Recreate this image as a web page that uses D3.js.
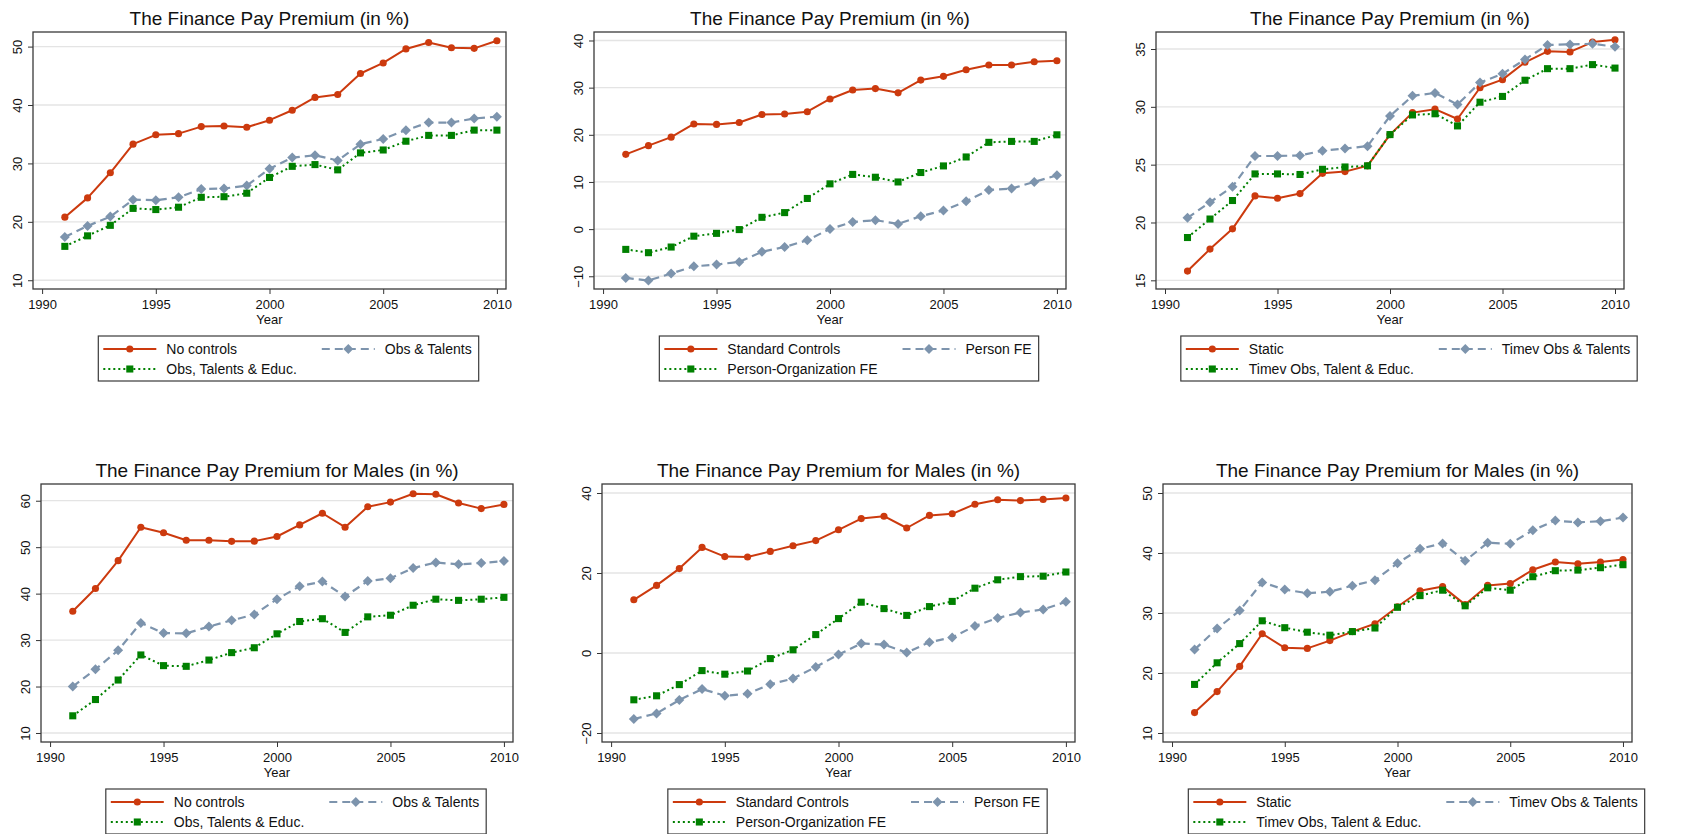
<!DOCTYPE html>
<html>
<head>
<meta charset="utf-8">
<script src="https://cdn.jsdelivr.net/npm/d3@7"></script>
<style>
  body { margin: 0; background: #fff; }
  svg { display: block; font-family: "Liberation Sans", Arial, sans-serif; }
</style>
</head>
<body>
<div class="chart"></div>
<script>
// years on the x axis
var years = [1991, 1992, 1993, 1994, 1995, 1996, 1997, 1998, 1999, 2000,
  2001, 2002, 2003, 2004, 2005, 2006, 2007, 2008, 2009, 2010];
var xTicks = [1990, 1995, 2000, 2005, 2010];

var titleAll = "The Finance Pay Premium (in %)";
var titleMales = "The Finance Pay Premium for Males (in %)";

var labelsA = ["No controls", "Obs & Talents", "Obs, Talents & Educ."];
var labelsB = ["Standard Controls", "Person FE", "Person-Organization FE"];
var labelsC = ["Static", "Timev Obs & Talents", "Timev Obs, Talent & Educ."];

// top left
var p1NoControls = [20.8, 24.1, 28.4, 33.3, 34.9, 35.1, 36.3, 36.4, 36.2, 37.4, 39.1, 41.3, 41.8, 45.4, 47.2, 49.6, 50.7, 49.8, 49.7, 51.0];
var p1ObsTalents = [17.4, 19.3, 20.9, 23.8, 23.7, 24.2, 25.6, 25.7, 26.2, 29.1, 31.0, 31.4, 30.5, 33.3, 34.2, 35.7, 37.0, 37.0, 37.7, 38.0];
var p1ObsTalentsEduc = [15.8, 17.6, 19.4, 22.3, 22.1, 22.5, 24.2, 24.3, 24.9, 27.6, 29.5, 29.8, 28.9, 31.8, 32.3, 33.8, 34.8, 34.8, 35.7, 35.7];
var p1Ticks = [10, 20, 30, 40, 50];

// top middle
var p2Standard = [15.85, 17.7, 19.5, 22.3, 22.2, 22.6, 24.3, 24.4, 24.9, 27.6, 29.5, 29.8, 28.9, 31.6, 32.4, 33.8, 34.8, 34.8, 35.5, 35.7];
var p2PersonFE = [-10.35, -10.9, -9.4, -7.9, -7.5, -6.95, -4.8, -3.8, -2.35, 0.05, 1.5, 1.9, 1.1, 2.75, 3.95, 5.9, 8.3, 8.6, 10.0, 11.4];
var p2PersonOrgFE = [-4.3, -5.0, -3.8, -1.5, -0.9, -0.1, 2.5, 3.5, 6.5, 9.6, 11.6, 11.0, 10.0, 12.0, 13.4, 15.3, 18.4, 18.6, 18.6, 20.0];
var p2Ticks = [-10, 0, 10, 20, 30, 40];

// top right
var p3Static = [15.8, 17.7, 19.45, 22.3, 22.1, 22.5, 24.25, 24.4, 24.9, 27.6, 29.5, 29.8, 28.95, 31.65, 32.35, 33.85, 34.8, 34.75, 35.6, 35.8];
var p3TimevObs = [20.4, 21.75, 23.1, 25.75, 25.75, 25.8, 26.2, 26.4, 26.6, 29.2, 30.95, 31.2, 30.2, 32.1, 32.85, 34.1, 35.35, 35.4, 35.45, 35.2];
var p3TimevEduc = [18.7, 20.3, 21.9, 24.2, 24.2, 24.15, 24.6, 24.8, 24.9, 27.6, 29.3, 29.4, 28.35, 30.4, 30.9, 32.3, 33.3, 33.3, 33.65, 33.35];
var p3Ticks = [15, 20, 25, 30, 35];

// bottom left (males)
var p4NoControls = [36.2, 41.1, 47.1, 54.3, 53.1, 51.5, 51.5, 51.25, 51.3, 52.3, 54.8, 57.3, 54.3, 58.7, 59.7, 61.5, 61.4, 59.5, 58.3, 59.2];
var p4ObsTalents = [20.0, 23.7, 27.8, 33.7, 31.5, 31.45, 32.9, 34.25, 35.5, 38.8, 41.6, 42.6, 39.4, 42.7, 43.3, 45.5, 46.7, 46.3, 46.6, 47.0];
var p4ObsTalentsEduc = [13.7, 17.2, 21.4, 26.8, 24.5, 24.35, 25.7, 27.3, 28.35, 31.35, 34.0, 34.6, 31.65, 35.0, 35.35, 37.5, 38.8, 38.55, 38.8, 39.2];
var p4Ticks = [10, 20, 30, 40, 50, 60];

// bottom middle (males)
var p5Standard = [13.3, 16.9, 21.1, 26.4, 24.1, 24.0, 25.4, 26.8, 28.1, 30.8, 33.6, 34.2, 31.25, 34.4, 34.8, 37.2, 38.3, 38.1, 38.4, 38.75];
var p5PersonFE = [-16.5, -15.1, -11.75, -9.0, -10.7, -10.2, -7.8, -6.4, -3.5, -0.4, 2.4, 2.1, 0.1, 2.7, 3.9, 6.75, 8.75, 10.1, 10.9, 12.8];
var p5PersonOrgFE = [-11.7, -10.7, -7.9, -4.4, -5.3, -4.5, -1.4, 0.8, 4.6, 8.6, 12.7, 11.1, 9.4, 11.6, 12.9, 16.2, 18.3, 19.1, 19.2, 20.25];
var p5Ticks = [-20, 0, 20, 40];

// bottom right (males)
var p6Static = [13.4, 16.9, 21.1, 26.55, 24.2, 24.1, 25.4, 26.9, 28.2, 31.05, 33.7, 34.4, 31.4, 34.6, 34.9, 37.2, 38.5, 38.2, 38.5, 38.9];
var p6TimevObs = [23.9, 27.4, 30.4, 35.1, 33.9, 33.3, 33.55, 34.55, 35.45, 38.3, 40.7, 41.6, 38.7, 41.7, 41.55, 43.8, 45.4, 45.1, 45.3, 45.9];
var p6TimevEduc = [18.1, 21.7, 24.9, 28.7, 27.55, 26.8, 26.3, 26.9, 27.5, 30.95, 32.9, 33.8, 31.2, 34.2, 33.8, 36.05, 37.05, 37.15, 37.55, 38.05];
var p6Ticks = [10, 20, 30, 40, 50];

var width = 1683, height = 834;
var xDomain = [1989.6, 2010.4];

var red = "#cc3a0e", blue = "#7d94ad", green = "#008000";

// red solid + circle, blue dashed + diamond, green dotted + square
var styles = [
  { color: red, dash: null, width: 2, symbol: d3.symbolCircle, size: 40, rotate: 0 },
  { color: blue, dash: "8,5", width: 2.2, symbol: d3.symbolSquare, size: 50, rotate: 45 },
  { color: green, dash: "2,3", width: 2, symbol: d3.symbolSquare, size: 50, rotate: 0 }
];

var panels = [
  { title: titleAll, box: [33, 32, 506, 289], yDomain: [8.5, 52.5], ticks: p1Ticks, labels: labelsA,
    series: [p1NoControls, p1ObsTalents, p1ObsTalentsEduc] },
  { title: titleAll, box: [594, 32, 1066, 289], yDomain: [-12.7, 41.8], ticks: p2Ticks, labels: labelsB,
    series: [p2Standard, p2PersonFE, p2PersonOrgFE] },
  { title: titleAll, box: [1156, 32, 1624, 289], yDomain: [14.25, 36.47], ticks: p3Ticks, labels: labelsC,
    series: [p3Static, p3TimevObs, p3TimevEduc] },
  { title: titleMales, box: [41, 484, 513, 742], yDomain: [8.06, 63.6], ticks: p4Ticks, labels: labelsA,
    series: [p4NoControls, p4ObsTalents, p4ObsTalentsEduc] },
  { title: titleMales, box: [602, 484, 1075, 742], yDomain: [-22.25, 42.25], ticks: p5Ticks, labels: labelsB,
    series: [p5Standard, p5PersonFE, p5PersonOrgFE] },
  { title: titleMales, box: [1163, 484, 1632, 742], yDomain: [8.5, 51.5], ticks: p6Ticks, labels: labelsC,
    series: [p6Static, p6TimevObs, p6TimevEduc] }
];

var svg = d3.select(".chart")
  .append("svg")
  .attr("width", width)
  .attr("height", height);

svg.append("rect").attr("width", width).attr("height", height).attr("fill", "#fff");

function marker(g, s) {
  return g.append("path")
    .attr("d", d3.symbol().type(s.symbol).size(s.size)())
    .attr("fill", s.color)
    .attr("stroke", "none");
}

panels.forEach(function (p) {
  var left = p.box[0], top = p.box[1], right = p.box[2], bottom = p.box[3];
  var cx = (left + right) / 2;

  var x = d3.scaleLinear().domain(xDomain).range([left, right]);
  var y = d3.scaleLinear().domain(p.yDomain).range([bottom, top]);

  var g = svg.append("g");

  // grid
  g.selectAll(".grid").data(p.ticks).enter().append("line")
    .attr("x1", left).attr("x2", right)
    .attr("y1", d => y(d)).attr("y2", d => y(d))
    .attr("stroke", "#e4e4e4")
    .attr("stroke-width", 1.3);

  // y axis, labels rotated
  var ya = g.append("g")
    .attr("transform", "translate(" + left + ",0)")
    .call(d3.axisLeft(y).tickValues(p.ticks).tickSize(5).tickFormat(d3.format("d")));
  ya.select(".domain").remove();
  ya.attr("font-family", null).attr("font-size", 13);
  ya.selectAll("line").attr("stroke", "#333");
  ya.selectAll("text")
    .attr("x", null).attr("dy", null)
    .attr("text-anchor", "middle")
    .attr("fill", "#111")
    .attr("transform", "translate(-11,0) rotate(-90)");

  // x axis
  var xa = g.append("g")
    .attr("transform", "translate(0," + bottom + ")")
    .call(d3.axisBottom(x).tickValues(xTicks).tickSize(5).tickPadding(6).tickFormat(d3.format("d")));
  xa.select(".domain").remove();
  xa.attr("font-family", null).attr("font-size", 13);
  xa.selectAll("line").attr("stroke", "#333");
  xa.selectAll("text").attr("fill", "#111");

  g.append("text")
    .attr("x", cx).attr("y", bottom + 35)
    .attr("text-anchor", "middle")
    .attr("font-size", 13)
    .attr("fill", "#111")
    .text("Year");

  // title
  g.append("text")
    .attr("x", cx).attr("y", top - 7)
    .attr("text-anchor", "middle")
    .attr("font-size", 19)
    .attr("fill", "#111")
    .text(p.title);

  // series
  var line = d3.line()
    .x((d, i) => x(years[i]))
    .y(d => y(d));

  p.series.forEach(function (vals, k) {
    var s = styles[k];
    g.append("path")
      .datum(vals)
      .attr("d", line)
      .attr("fill", "none")
      .attr("stroke", s.color)
      .attr("stroke-width", s.width)
      .attr("stroke-dasharray", s.dash)
      .attr("stroke-linejoin", "round");
    g.selectAll(".pt" + k).data(vals).enter().append("path")
      .attr("class", "pt" + k)
      .attr("d", d3.symbol().type(s.symbol).size(s.size)())
      .attr("transform", (d, i) => "translate(" + x(years[i]) + "," + y(d) + ") rotate(" + s.rotate + ")")
      .attr("fill", s.color);
  });

  // frame
  g.append("rect")
    .attr("x", left).attr("y", top)
    .attr("width", right - left).attr("height", bottom - top)
    .attr("fill", "none")
    .attr("stroke", "#3a3a3a")
    .attr("stroke-width", 1.3);

  // legend: col1 = series 0 and 2, col2 = series 1
  var lg = g.append("g");
  var ltop = bottom + 47;
  var texts = p.labels.map(function (t) {
    return lg.append("text").attr("font-size", 14).attr("fill", "#111").text(t);
  });
  var w = texts.map(t => t.node().getComputedTextLength());
  var col1 = Math.max(w[0], w[2]);
  var lw = 68 + col1 + 25 + 61 + w[1] + 9;
  var lx = cx + 19 - lw / 2;
  var slots = [
    [lx, ltop + 13],
    [lx + 68 + col1 + 25 - 5, ltop + 13],
    [lx, ltop + 33]
  ];

  lg.insert("rect", ":first-child")
    .attr("x", lx).attr("y", ltop)
    .attr("width", lw).attr("height", 45)
    .attr("fill", "#fff")
    .attr("stroke", "#3a3a3a")
    .attr("stroke-width", 1.2);

  slots.forEach(function (sl, k) {
    var s = styles[k];
    lg.append("line")
      .attr("x1", sl[0] + 5).attr("x2", sl[0] + 58)
      .attr("y1", sl[1]).attr("y2", sl[1])
      .attr("stroke", s.color)
      .attr("stroke-width", s.width)
      .attr("stroke-dasharray", s.dash);
    marker(lg, s)
      .attr("transform", "translate(" + (sl[0] + 31.5) + "," + sl[1] + ") rotate(" + s.rotate + ")");
    texts[k].attr("x", sl[0] + 68).attr("y", sl[1] + 5);
  });
});
</script>
</body>
</html>
